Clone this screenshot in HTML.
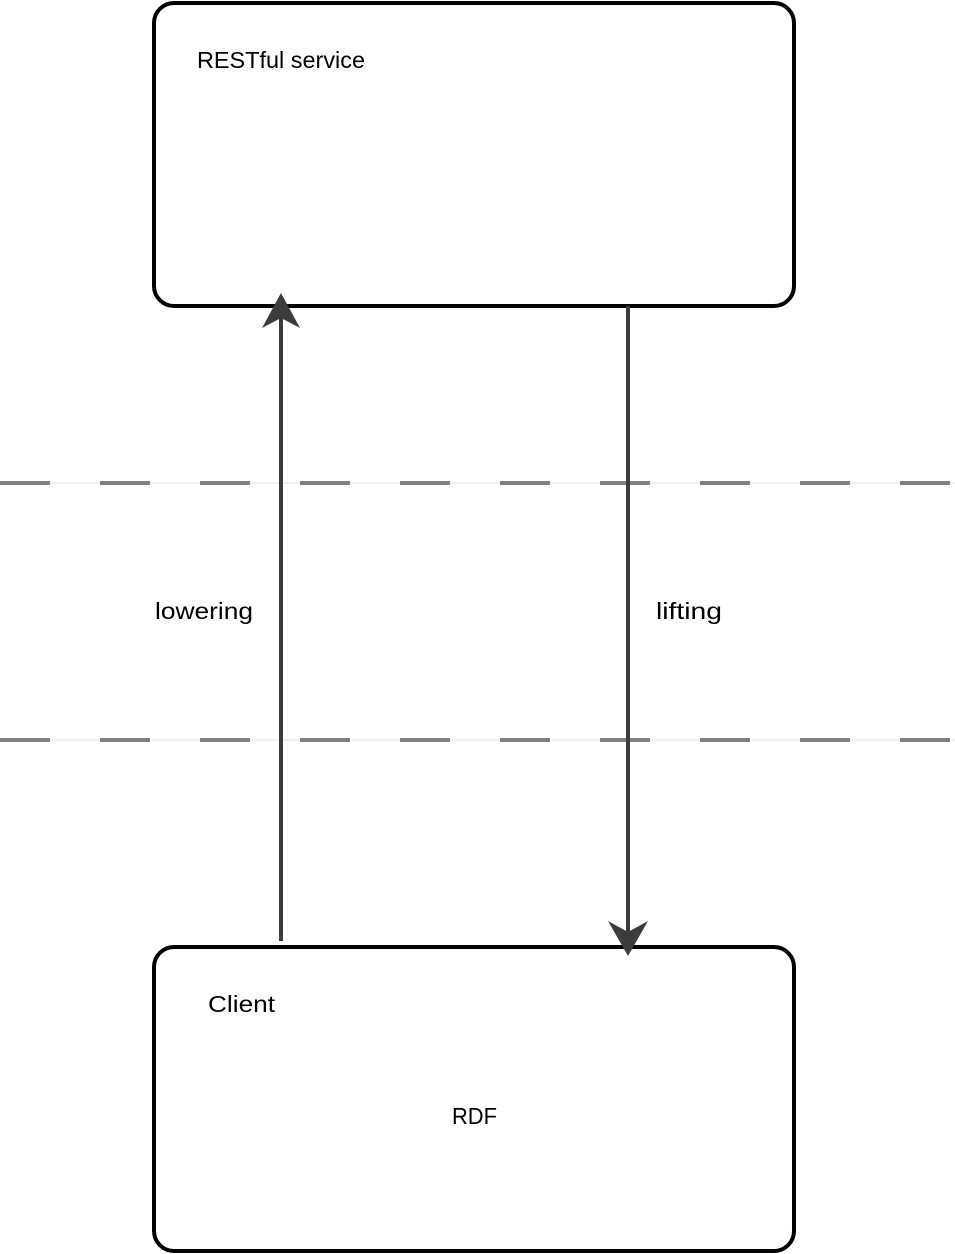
<!DOCTYPE html>
<html><head><meta charset="utf-8"><style>
html,body{margin:0;padding:0;background:#fff;}
svg{display:block;font-family:"Liberation Sans",sans-serif;}
</style></head><body>
<svg width="955" height="1254" viewBox="0 0 955 1254">
<g>
<line x1="0" y1="483" x2="955" y2="483" stroke="#e2e2e2" stroke-width="1"/>
<line x1="0" y1="483" x2="955" y2="483" stroke="#808080" stroke-width="4" stroke-dasharray="50 50"/>
<line x1="0" y1="740" x2="955" y2="740" stroke="#e2e2e2" stroke-width="1"/>
<line x1="0" y1="740" x2="955" y2="740" stroke="#808080" stroke-width="4" stroke-dasharray="50 50"/>
</g>
<rect x="154" y="3" width="640" height="303" rx="20" fill="none" stroke="#000" stroke-width="4"/>
<text x="197" y="68" font-size="23" textLength="168" lengthAdjust="spacingAndGlyphs" fill="#000">RESTful service</text>
<rect x="154" y="947" width="640" height="304" rx="20" fill="none" stroke="#000" stroke-width="4"/>
<text x="208" y="1012" font-size="23" textLength="67" lengthAdjust="spacingAndGlyphs" fill="#000">Client</text>
<text x="452" y="1124" font-size="23" textLength="45" lengthAdjust="spacingAndGlyphs" fill="#000">RDF</text>
<g>
<line x1="281" y1="941" x2="281" y2="318" stroke="#3c3c3c" stroke-width="4"/>
<polygon points="281,293 300,328 281,318 262,328" fill="#3c3c3c"/>
</g>
<text x="155" y="619" font-size="23" textLength="98" lengthAdjust="spacingAndGlyphs" fill="#000">lowering</text>
<g>
<line x1="628" y1="306" x2="628" y2="932" stroke="#3c3c3c" stroke-width="4"/>
<polygon points="628,956 648,921 628,932 608,921" fill="#3c3c3c"/>
</g>
<text x="656" y="619" font-size="23" textLength="66" lengthAdjust="spacingAndGlyphs" fill="#000">lifting</text>
</svg>
</body></html>
